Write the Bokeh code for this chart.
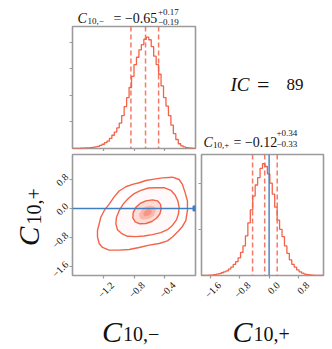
import numpy as np
from math import pi
from bokeh.plotting import figure
from bokeh.models import (Range1d, FixedTicker, Span, Label, LinearAxis,
                          CustomJSTickFormatter)
from bokeh.layouts import column, row
from bokeh.embed import file_html
from bokeh.resources import INLINE

# ---------------- data ----------------
range_minus = [-1.6, 0.0]          # C10,- axis range
range_plus = [-1.84, 1.48]         # C10,+ axis range
hist_minus_ylim = [0.0, 2.3]
hist_plus_ylim = [0.0, 1.31]

# histogram heights (50 bins each over the ranges above)
hist_minus = [0.0, 0.0, 0.0, 0.005, 0.005, 0.01, 0.01, 0.015, 0.02, 0.03,
              0.04, 0.06, 0.08, 0.11, 0.14, 0.19, 0.25, 0.31, 0.39, 0.48,
              0.62, 0.79, 0.96, 1.15, 1.36, 1.58, 1.72, 1.86, 1.96, 2.06,
              2.10, 2.05, 1.92, 1.74, 1.58, 1.40, 1.18, 0.96, 0.80, 0.62,
              0.44, 0.28, 0.17, 0.09, 0.05, 0.03, 0.015, 0.01, 0.005, 0.0]
hist_plus = [0.0, 0.0, 0.0, 0.003, 0.005, 0.01, 0.015, 0.02, 0.03, 0.04,
             0.05, 0.07, 0.09, 0.12, 0.15, 0.19, 0.25, 0.32, 0.43, 0.57,
             0.71, 0.86, 0.98, 1.06, 1.16, 1.21, 1.18, 1.10, 1.00, 0.88,
             0.74, 0.60, 0.50, 0.42, 0.32, 0.24, 0.17, 0.12, 0.09, 0.06,
             0.04, 0.025, 0.015, 0.01, 0.006, 0.004, 0.002, 0.0, 0.0, 0.0]

quant_minus = [-0.84, -0.65, -0.48]
quant_plus = [-0.45, -0.12, 0.22]
truth = [0.0, 0.0]   # (C10,-, C10,+)

# 2D credible contours (C10,- , C10,+)
outer_x = [-0.300, -0.213, -0.170, -0.135, -0.105, -0.105, -0.126, -0.170, -0.222,
           -0.300, -0.365, -0.473, -0.603, -0.733, -0.863, -0.993, -1.123, -1.210,
           -1.253, -1.275, -1.275, -1.253, -1.232, -1.188, -1.123, -1.058, -0.993,
           -0.906, -0.820, -0.733, -0.646, -0.538, -0.430]
outer_y = [0.857, 0.794, 0.659, 0.434, 0.209, -0.062, -0.332, -0.494, -0.620,
           -0.782, -0.890, -0.962, -1.007, -1.071, -1.125, -1.143, -1.143, -1.071,
           -0.962, -0.782, -0.602, -0.422, -0.242, -0.062, 0.119, 0.317, 0.479,
           0.596, 0.659, 0.704, 0.767, 0.803, 0.839]
middle_x = [-0.516, -0.408, -0.321, -0.265, -0.230, -0.213, -0.222, -0.248, -0.300,
            -0.365, -0.451, -0.560, -0.668, -0.776, -0.885, -0.958, -1.015, -1.036,
            -1.028, -0.993, -0.941, -0.872, -0.798, -0.711, -0.612]
middle_y = [0.569, 0.569, 0.497, 0.371, 0.209, 0.029, -0.152, -0.314, -0.467,
            -0.584, -0.665, -0.719, -0.755, -0.773, -0.764, -0.692, -0.584, -0.422,
            -0.242, -0.062, 0.119, 0.281, 0.407, 0.497, 0.560]
inner_x = [-0.560, -0.495, -0.456, -0.447, -0.464, -0.508, -0.568, -0.646, -0.724,
           -0.785, -0.815, -0.811, -0.776, -0.720, -0.646]
inner_y = [0.236, 0.209, 0.119, -0.016, -0.152, -0.269, -0.359, -0.413, -0.422,
           -0.368, -0.260, -0.116, 0.029, 0.137, 0.209]
core1_x = [-0.583, -0.525, -0.518, -0.544, -0.609, -0.687, -0.726, -0.734, -0.700, -0.648]
core1_y = [0.080, 0.038, -0.070, -0.205, -0.286, -0.313, -0.259, -0.151, -0.043, 0.055]
core2_x = [-0.604, -0.575, -0.571, -0.584, -0.617, -0.656, -0.675, -0.679, -0.663, -0.636]
core2_y = [-0.020, -0.041, -0.095, -0.163, -0.203, -0.217, -0.190, -0.136, -0.081, -0.033]

ticks_minus = [-1.2, -0.8, -0.4]
ticks_minus_labels = ["\u22121.2", "\u22120.8", "\u22120.4"]
ticks_plus = [-1.6, -0.8, 0.0, 0.8]
ticks_plus_labels = ["\u22121.6", "\u22120.8", "0.0", "0.8"]
ticks_hist_minus = [0.5, 1.0, 1.5, 2.0]
ticks_hist_plus = [0.5, 1.0]

title_minus = ["C", "10,\u2212", "= \u22120.65", "+0.17", "\u22120.19"]
title_plus = ["C", "10,+", "= \u22120.12", "+0.34", "\u22120.33"]
ic_text = ["IC", "=", "89"]
xlabel_parts = ["C", "10,\u2212"]
ylabel_parts = ["C", "10,+"]

# ---------------- style ----------------
RED = "#f4624a"
BLUE = "#3f7fbf"
GRAY = "#9b9b9b"
FONT = "Liberation Serif"
TICK_LABEL_SIZE = "10px"
LABEL_DX = 9      # px shift so rotated tick labels centre on their ticks
LABEL_DY = 4
BOTTOM = 28       # bottom border of the lower panels
YLAB_W = 44       # width of the strip holding the vertical axis label


def base_fig(w, h, xr, yr, bl, br, bt, bb):
    p = figure(width=w, height=h, x_range=Range1d(*xr), y_range=Range1d(*yr),
               min_border_left=bl, min_border_right=br, min_border_top=bt,
               min_border_bottom=bb, output_backend="svg", toolbar_location=None,
               frame_align=False)
    p.grid.visible = False
    p.outline_line_color = GRAY
    p.outline_line_width = 1.6
    p.background_fill_color = "white"
    p.border_fill_color = "white"
    for ax in [p.xaxis[0], p.yaxis[0]]:
        ax.axis_line_color = None
        ax.major_tick_line_color = GRAY
        ax.major_tick_line_width = 1.2
        ax.major_tick_in = 0
        ax.major_tick_out = 3
        ax.minor_tick_line_color = None
        ax.major_label_text_color = None
        ax.major_label_text_font_size = "1px"
        ax.major_label_standoff = 0
        ax.formatter = CustomJSTickFormatter(code="return ''")
    return p


def label_axis(p, side, ticks, labels, shift_px, standoff):
    """Secondary axis carrying the rotated tick labels, centred on the ticks."""
    if side == "below":
        rng, npx = p.x_range, p.width - p.min_border_left - p.min_border_right
    else:
        rng, npx = p.y_range, p.height - p.min_border_top - p.min_border_bottom
    du = shift_px * (rng.end - rng.start) / npx
    ax = LinearAxis(ticker=FixedTicker(ticks=[t + du for t in ticks]),
                    formatter=CustomJSTickFormatter(args=dict(labels=labels),
                                                    code="return labels[index]"))
    ax.axis_line_color = None
    ax.major_tick_line_color = None
    ax.minor_tick_line_color = None
    ax.major_tick_in = 0
    ax.major_tick_out = 0
    ax.major_label_standoff = standoff
    ax.major_label_orientation = pi / 4
    ax.major_label_text_font = FONT
    ax.major_label_text_font_size = TICK_LABEL_SIZE
    ax.major_label_text_color = "#111111"
    p.add_layout(ax, side)


def text_fig(w, h):
    # y runs downward in pixels so text positions are plain layout offsets
    p = figure(width=w, height=h, x_range=Range1d(0, w), y_range=Range1d(h, 0),
               x_axis_location=None, y_axis_location=None, min_border=0,
               output_backend="svg", toolbar_location=None, frame_align=False)
    p.grid.visible = False
    p.outline_line_color = None
    p.background_fill_color = "white"
    p.border_fill_color = "white"
    return p


def add_text(p, origin, px, py, text, size, italic=False, angle=0.0):
    p.add_layout(Label(x=px - origin[0], y=py - origin[1], text=text,
                       text_font=FONT, text_font_size=f"{size}px",
                       text_font_style="italic" if italic else "normal",
                       text_color="#111111", text_align="left",
                       text_baseline="alphabetic", angle=angle))


def step_hist(p, rng, vals):
    edges = np.linspace(rng[0], rng[1], len(vals) + 1)
    p.step(x=edges, y=list(vals) + [vals[-1]], mode="after",
           line_color=RED, line_width=1.3)


# ---- title above top-left ----
ttl = text_fig(198, 25)
o = (0, 0)
add_text(ttl, o, 77, 18.3, title_minus[0], 14, italic=True)
add_text(ttl, o, 87, 20.8, title_minus[1], 9)
add_text(ttl, o, 113, 18.3, title_minus[2], 14)
add_text(ttl, o, 157.5, 11.2, title_minus[3], 9)
add_text(ttl, o, 157.5, 21.0, title_minus[4], 9)

# ---- top-left: C10,- marginal ----
tl = base_fig(198, 126, range_minus, hist_minus_ylim, 72, 3, 1, 3)
tl.xaxis.ticker = FixedTicker(ticks=ticks_minus)
tl.yaxis.ticker = FixedTicker(ticks=ticks_hist_minus)
step_hist(tl, range_minus, hist_minus)
for q in quant_minus:
    tl.add_layout(Span(location=q, dimension="height", line_color=RED,
                       line_dash="5 3", line_width=1.5, line_alpha=0.85))

# ---- y label ----
ylab = text_fig(YLAB_W, 125 + BOTTOM)
o = (0, 151)
add_text(ylab, o, 28.5, 245.5, ylabel_parts[0], 29, italic=True, angle=pi / 2)
add_text(ylab, o, 33, 224, ylabel_parts[1], 20, angle=pi / 2)

# ---- bottom-left: 2D ----
bl = base_fig(198 - YLAB_W, 125 + BOTTOM, range_minus, range_plus,
              72 - YLAB_W, 3, 3, BOTTOM)
bl.xaxis.ticker = FixedTicker(ticks=ticks_minus)
bl.yaxis.ticker = FixedTicker(ticks=ticks_plus)
label_axis(bl, "below", ticks_minus, ticks_minus_labels, LABEL_DX, 5)
label_axis(bl, "left", ticks_plus, ticks_plus_labels, LABEL_DY, 3)
bl.patch(middle_x, middle_y, fill_color=RED, fill_alpha=0.03, line_color=None)
bl.patch(inner_x, inner_y, fill_color=RED, fill_alpha=0.2, line_color=None)
bl.patch(core1_x, core1_y, fill_color=RED, fill_alpha=0.3, line_color=None)
bl.patch(core2_x, core2_y, fill_color=RED, fill_alpha=0.4, line_color=None)
for cx, cy in [(outer_x, outer_y), (middle_x, middle_y), (inner_x, inner_y)]:
    bl.patch(cx, cy, fill_color=None, line_color=RED, line_width=1.4)
bl.add_layout(Span(location=truth[1], dimension="width", line_color=BLUE, line_width=1.4))
bl.scatter([truth[0]], [truth[1]], marker="square", size=5, color=BLUE)

# ---- x label under 2D ----
XL_TOP = 151 + 125 + BOTTOM
xlab1 = text_fig(198, 44)
o = (0, XL_TOP)
add_text(xlab1, o, 101.5, 331, xlabel_parts[0], 30, italic=True)
add_text(xlab1, o, 122.5, 333, xlabel_parts[1], 20)

# ---- top-right: text ----
tr = text_fig(132, 151)
o = (198, 0)
add_text(tr, o, 230, 84, ic_text[0], 19, italic=True)
add_text(tr, o, 256.5, 84, ic_text[1], 22)
add_text(tr, o, 286, 84, ic_text[2], 17)
add_text(tr, o, 203, 142.3, title_plus[0], 14, italic=True)
add_text(tr, o, 212.5, 144.8, title_plus[1], 9)
add_text(tr, o, 233, 142.3, title_plus[2], 14)
add_text(tr, o, 276, 132.0, title_plus[3], 9)
add_text(tr, o, 276, 143.8, title_plus[4], 9)

# ---- bottom-right: C10,+ marginal ----
br = base_fig(132, 125 + BOTTOM, range_plus, hist_plus_ylim, 3, 7, 3, BOTTOM)
br.xaxis.ticker = FixedTicker(ticks=ticks_plus)
br.yaxis.ticker = FixedTicker(ticks=ticks_hist_plus)
label_axis(br, "below", ticks_plus, ticks_plus_labels, LABEL_DX, 5)
step_hist(br, range_plus, hist_plus)
for q in quant_plus:
    br.add_layout(Span(location=q, dimension="height", line_color=RED,
                       line_dash="5 3", line_width=1.5, line_alpha=0.85))
br.add_layout(Span(location=truth[1], dimension="height", line_color=BLUE, line_width=1.4))

# ---- x label under right marginal ----
xlab2 = text_fig(132, 44)
o = (198, XL_TOP)
add_text(xlab2, o, 232, 331, xlabel_parts[0], 30, italic=True)
add_text(xlab2, o, 253, 333, ylabel_parts[1], 20)

left_col = column(ttl, tl, row(ylab, bl), xlab1)
right_col = column(tr, br, xlab2)
layout = row(left_col, right_col)

open("out.html", "w").write(file_html(layout, INLINE))
